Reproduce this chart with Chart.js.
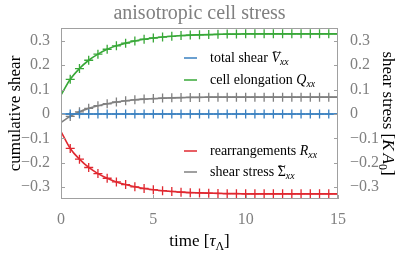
<!DOCTYPE html>
<html lang="en">
<head>
<meta charset="UTF-8">
<title>anisotropic cell stress</title>
<script src="https://cdn.jsdelivr.net/npm/chart.js"></script>
<style>
  html, body { margin: 0; padding: 0; background: #fff; }
  #wrap { width: 399px; height: 254px; }
</style>
</head>
<body>
<div id="wrap"><canvas id="stressChart" width="399" height="254"></canvas></div>
<script>
// time points (units of tau_Lambda)
const times = [0, 0.5, 1, 1.5, 2, 2.5, 3, 3.5, 4, 4.5, 5, 5.5, 6, 6.5, 7, 7.5,
               8, 8.5, 9, 9.5, 10, 10.5, 11, 11.5, 12, 12.5, 13, 13.5, 14, 14.5, 15];
const totalShear = [0, 0, 0, 0, 0, 0, 0, 0, 0, 0, 0, 0, 0, 0, 0, 0,
                    0, 0, 0, 0, 0, 0, 0, 0, 0, 0, 0, 0, 0, 0, 0];
const cellElongation = [0.077, 0.142, 0.186, 0.220, 0.245, 0.265, 0.279, 0.290, 0.299, 0.306, 0.311, 0.315, 0.318, 0.321, 0.323, 0.324,
                        0.325, 0.326, 0.327, 0.327, 0.328, 0.328, 0.328, 0.328, 0.328, 0.328, 0.328, 0.328, 0.328, 0.328, 0.328];
const rearrangements = [-0.072, -0.141, -0.185, -0.219, -0.244, -0.263, -0.278, -0.289, -0.298, -0.305, -0.310, -0.314, -0.317, -0.320, -0.322, -0.323,
                        -0.324, -0.325, -0.326, -0.326, -0.327, -0.327, -0.327, -0.327, -0.327, -0.327, -0.327, -0.327, -0.327, -0.327, -0.327];
const shearStress = [-0.035, -0.010, 0.009, 0.023, 0.034, 0.042, 0.049, 0.054, 0.058, 0.061, 0.063, 0.065, 0.066, 0.067, 0.068, 0.068,
                     0.069, 0.069, 0.069, 0.069, 0.069, 0.069, 0.069, 0.069, 0.069, 0.069, 0.069, 0.069, 0.069, 0.069, 0.069];

const xTicks = [0, 5, 10, 15];
const yTicks = [-0.3, -0.2, -0.1, 0, 0.1, 0.2, 0.3];

const BLUE = '#3a80c0';
const GREEN = '#38a838';
const RED = '#e02830';
const GRAY = '#808080';
const SERIF = '"Liberation Serif", "DejaVu Serif", serif';

function fmt(v) {
    if (Math.abs(v) < 1e-9) return '0';
    const s = Math.abs(v).toString();
    return (v < 0 ? '\u2212' : '') + s;
}

// draw a run of text pieces: {t, it, sub, tilde}
function drawRich(ctx, parts, x, y, size, align) {
    const fontFor = p => (p.it ? 'italic ' : '') + (p.sub ? size * 0.7 : size) + 'px ' + SERIF;
    let total = 0;
    parts.forEach(p => { ctx.font = fontFor(p); total += ctx.measureText(p.t).width + (p.gap || 0); });
    let cx = align === 'center' ? x - total / 2 : x;
    ctx.textAlign = 'left';
    ctx.textBaseline = 'alphabetic';
    parts.forEach(p => {
        ctx.font = fontFor(p);
        const w = ctx.measureText(p.t).width;
        ctx.fillText(p.t, cx, y + (p.sub ? size * 0.22 : 0));
        if (p.tilde) {
            ctx.save();
            ctx.font = size + 'px ' + SERIF;
            ctx.textAlign = 'center';
            ctx.translate(cx + w / 2 + (p.it ? 1 : 0), y - size * 0.5);
            ctx.scale(1.1, 0.8);
            ctx.fillText('~', 0, 0);
            ctx.restore();
        }
        cx += w + (p.gap || 0);
    });
}

const legendItems = [
    { color: BLUE, y: 58, parts: [{ t: 'total shear ' }, { t: 'V', it: true, tilde: true }, { t: 'xx', it: true, sub: true }] },
    { color: GREEN, y: 80, parts: [{ t: 'cell elongation ' }, { t: 'Q', it: true }, { t: 'xx', it: true, sub: true }] },
    { color: RED, y: 151, parts: [{ t: 'rearrangements ' }, { t: 'R', it: true }, { t: 'xx', it: true, sub: true }] },
    { color: GRAY, y: 172, parts: [{ t: 'shear stress ' }, { t: '\u03A3', tilde: true }, { t: 'xx', it: true, sub: true }] }
];

const decorPlugin = {
    id: 'decor',
    afterDraw(chart) {
        const ctx = chart.ctx;
        const a = chart.chartArea;
        const xs = chart.scales.x, ys = chart.scales.y;
        ctx.save();
        // frame
        ctx.strokeStyle = '#a0a0a0';
        ctx.lineWidth = 1;
        ctx.strokeRect(a.left + 0.5, a.top + 0.5, a.right - a.left - 1, a.bottom - a.top - 1);
        // inner tick marks
        ctx.beginPath();
        yTicks.forEach(v => {
            const py = Math.round(ys.getPixelForValue(v)) + 0.5;
            ctx.moveTo(a.left, py); ctx.lineTo(a.left + 4, py);
            ctx.moveTo(a.right, py); ctx.lineTo(a.right - 4, py);
        });
        xTicks.forEach(v => {
            const px = Math.round(xs.getPixelForValue(v)) + 0.5;
            ctx.moveTo(px, a.bottom); ctx.lineTo(px, a.bottom - 4);
        });
        ctx.stroke();

        // title
        ctx.fillStyle = GRAY;
        ctx.font = '20px ' + SERIF;
        ctx.textAlign = 'center';
        ctx.textBaseline = 'alphabetic';
        ctx.fillText('anisotropic cell stress', (a.left + a.right) / 2, 19);

        // axis titles
        ctx.fillStyle = '#000';
        drawRich(ctx, [{ t: 'time [' }, { t: '\u03C4', it: true }, { t: '\u039B', sub: true }, { t: ']' }],
                 (a.left + a.right) / 2, 246, 17, 'center');
        const midY = (a.top + a.bottom) / 2;
        ctx.save();
        ctx.translate(20, midY);
        ctx.rotate(-Math.PI / 2);
        drawRich(ctx, [{ t: 'cumulative shear' }], 0, 0, 17, 'center');
        ctx.restore();
        ctx.save();
        ctx.translate(383, midY);
        ctx.rotate(Math.PI / 2);
        drawRich(ctx, [{ t: 'shear stress [' }, { t: 'K', it: true, gap: 3 }, { t: 'A', it: true }, { t: '0', sub: true }, { t: ']' }],
                 0, 0, 17, 'center');
        ctx.restore();

        // legend
        legendItems.forEach(item => {
            ctx.strokeStyle = item.color;
            ctx.lineWidth = 1.5;
            ctx.beginPath();
            ctx.moveTo(184, item.y); ctx.lineTo(197, item.y);
            ctx.stroke();
            ctx.fillStyle = '#000';
            drawRich(ctx, item.parts, 210, item.y + 4, 14, 'left');
        });
        ctx.restore();
    }
};

function series(label, values, color) {
    return {
        label: label,
        data: times.map((t, i) => ({ x: t, y: values[i] })),
        borderColor: color,
        backgroundColor: color,
        borderWidth: 1.6,
        pointStyle: 'cross',
        pointRadius: ctx => ctx.dataIndex === 0 ? 0 : 4.5,
        pointBorderWidth: 1.3,
        pointBorderColor: color,
        cubicInterpolationMode: 'monotone',
        fill: false
    };
}

const tickFont = { family: SERIF, size: 16 };
const fixTicks = list => scale => { scale.ticks = list.map(v => ({ value: v })); };

new Chart(document.getElementById('stressChart'), {
    type: 'line',
    data: {
        datasets: [
            series('total shear', totalShear, BLUE),
            series('cell elongation', cellElongation, GREEN),
            series('rearrangements', rearrangements, RED),
            series('shear stress', shearStress, GRAY)
        ]
    },
    options: {
        responsive: false,
        devicePixelRatio: 1,
        animation: false,
        events: [],
        layout: { padding: { top: 28, left: 0, right: 0, bottom: 0 } },
        plugins: { legend: { display: false }, tooltip: { enabled: false } },
        scales: {
            x: {
                type: 'linear', min: 0, max: 15,
                afterBuildTicks: fixTicks(xTicks),
                afterFit: s => { s.height = 55; },
                grid: { display: false },
                border: { display: false },
                ticks: { font: tickFont, color: GRAY, padding: 3, maxRotation: 0 }
            },
            y: {
                type: 'linear', position: 'left', min: -0.348, max: 0.352,
                afterBuildTicks: fixTicks(yTicks),
                afterFit: s => { s.width = 61; },
                grid: { display: false },
                border: { display: false },
                ticks: { font: tickFont, color: GRAY, padding: 3, callback: v => fmt(v) }
            },
            y2: {
                type: 'linear', position: 'right', min: -0.348, max: 0.352,
                afterBuildTicks: fixTicks(yTicks),
                afterFit: s => { s.width = 61; },
                grid: { display: false },
                border: { display: false },
                ticks: { font: tickFont, color: GRAY, padding: 4, callback: v => fmt(v) }
            }
        }
    },
    plugins: [decorPlugin]
});
</script>
</body>
</html>
